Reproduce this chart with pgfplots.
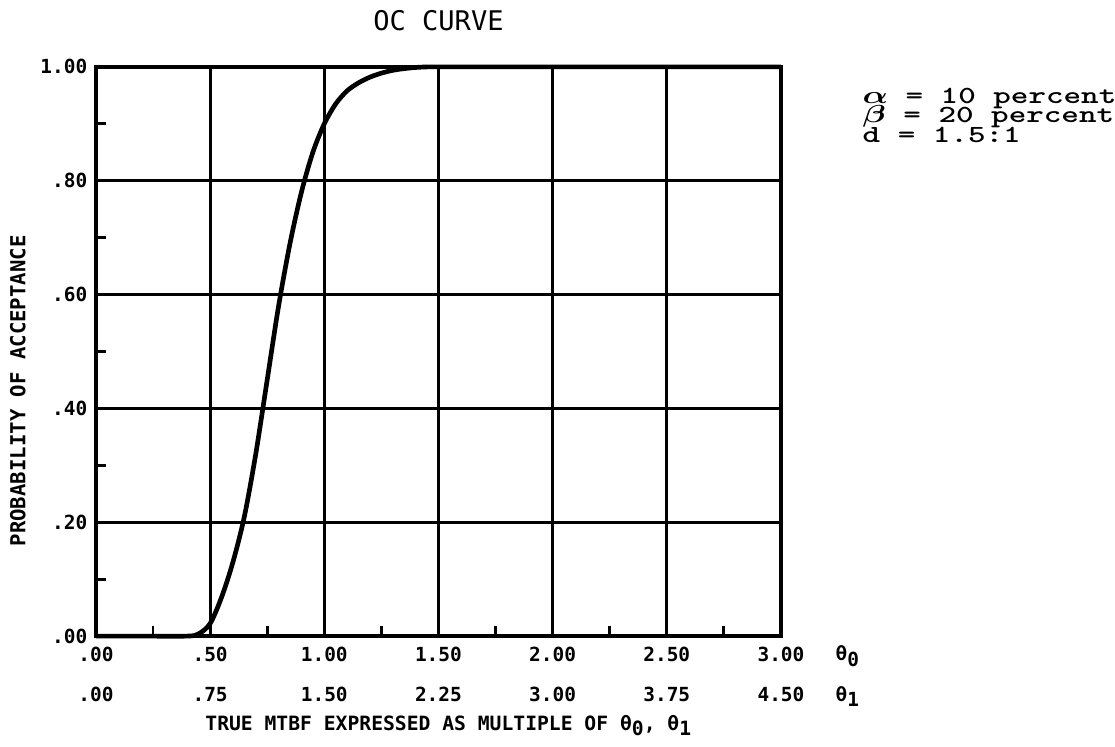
\documentclass[border=0pt]{standalone}
\usepackage{fontspec}
\usepackage{bm}
\usepackage{graphicx}
\setmainfont{DejaVu Sans Mono}
\usepackage{pgfplots}
\usetikzlibrary{calc}
\pgfplotsset{compat=1.18}

\begin{document}
\begin{tikzpicture}
\begin{axis}[
    scale only axis,
    width=278.5pt, height=231.4pt,
    xmin=0, xmax=3, ymin=0, ymax=1,
    xtick={0,0.5,1,1.5,2,2.5,3},
    ytick={0,0.2,0.4,0.6,0.8,1},
    xticklabels={{.00\\.00},{.50\\.75},{1.00\\1.50},{1.50\\2.25},{2.00\\3.00},{2.50\\3.75},{3.00\\4.50}},
    yticklabels={.00,.20,.40,.60,.80,1.00},
    minor xtick={0.25,0.75,1.25,1.75,2.25,2.75},
    minor ytick={0.1,0.3,0.5,0.7,0.9},
    xtick pos=left, ytick pos=left,
    tick align=inside,
    major tick length=0pt, minor tick length=4pt,
    tick style={line width=1.2pt, black},
    grid=major,
    major grid style={line width=1.2pt, black},
    axis line style={line width=1.4pt},
    x tick label style={align=center, font=\fontsize{7.9}{16.3}\selectfont\bfseries, yshift=-1pt},
    y tick label style={font=\fontsize{7.9}{9}\selectfont\bfseries},
    title={OC CURVE},
    every axis title shift=0pt,
    title style={at={(0.5,1)}, anchor=center, yshift=19pt, font=\fontsize{11}{13}\selectfont},
    clip=false,
]
\addplot[black, line width=1.9pt, smooth] coordinates {
    (0,0) (0.2,0) (0.4,0) (0.45,0.004) (0.5,0.022) (0.55,0.068) (0.6,0.13)
    (0.65,0.21) (0.7,0.32) (0.75,0.45) (0.8,0.58) (0.85,0.69)
    (0.9,0.78) (0.95,0.85) (1.0,0.9) (1.05,0.935) (1.1,0.958)
    (1.15,0.972) (1.2,0.982) (1.25,0.989) (1.3,0.994) (1.35,0.997)
    (1.4,0.999) (1.45,1.0) (1.5,1.0) (2.0,1.0) (2.5,1.0) (3.0,1.0)
};
\coordinate (ll) at (rel axis cs:0,0);
\coordinate (ur) at (rel axis cs:1,1);
\end{axis}
\node[anchor=center, font=\fontsize{7.9}{9}\selectfont\bfseries] at ([shift={(27pt,-8.2pt)}]ll -| ur) {θ\raisebox{-0.5ex}{0}};
\node[anchor=center, font=\fontsize{7.9}{9}\selectfont\bfseries] at ([shift={(27pt,-24.5pt)}]ll -| ur) {θ\raisebox{-0.5ex}{1}};
\node[anchor=center, font=\fontsize{8}{10}\selectfont\bfseries] at ([shift={(4pt,-36.5pt)}]$(ll)!0.5!(ll -| ur)$) {TRUE MTBF EXPRESSED AS MULTIPLE OF θ\raisebox{-0.5ex}{0}, θ\raisebox{-0.5ex}{1}};
\node[anchor=center, rotate=90, font=\fontsize{8.4}{10}\selectfont\bfseries] at ([shift={(-31.7pt,-16pt)}]$(ll)!0.5!(ll |- ur)$) {PROBABILITY OF ACCEPTANCE};
\node[anchor=base west, inner sep=0pt, font=\ttfamily\bfseries\fontsize{10}{12}\selectfont] at ([shift={(33pt,-14.8pt)}]ur) {\scalebox{1.36}[1]{$\bm\alpha$ = 10 percent}};
\node[anchor=base west, inner sep=0pt, font=\ttfamily\bfseries\fontsize{10}{12}\selectfont] at ([shift={(33pt,-22.8pt)}]ur) {\scalebox{1.36}[1]{$\bm\beta$ = 20 percent}};
\node[anchor=base west, inner sep=0pt, font=\ttfamily\bfseries\fontsize{10}{12}\selectfont] at ([shift={(33pt,-30.8pt)}]ur) {\scalebox{1.36}[1]{d = 1.5:1}};
\pgfresetboundingbox
\path ([shift={(-39pt,-44.7pt)}]ll) rectangle ([shift={(135.8pt,27.2pt)}]ur);
\end{tikzpicture}
\end{document}
